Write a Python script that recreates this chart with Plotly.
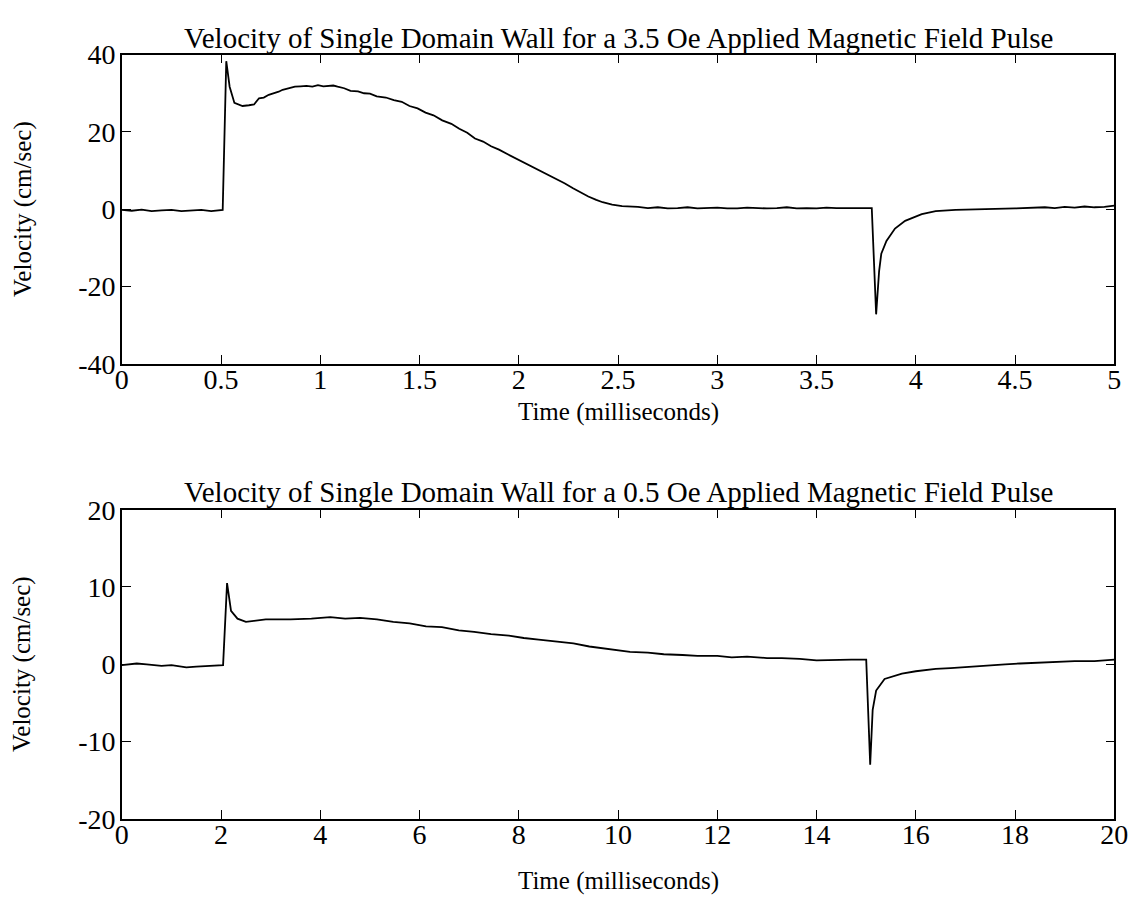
import plotly.graph_objects as go

# ---------------- data ----------------
# Top panel: 3.5 Oe pulse (time in ms, velocity in cm/sec)
t_top = [0, 0.05, 0.1, 0.15, 0.2, 0.25, 0.3, 0.35, 0.4, 0.45, 0.5, 0.508,
         0.526, 0.543, 0.567, 0.608, 0.64, 0.666, 0.691, 0.715, 0.74, 0.765,
         0.79, 0.81, 0.83, 0.85, 0.872, 0.90, 0.93, 0.96, 0.988, 1.015,
         1.04, 1.065, 1.087, 1.12, 1.152, 1.19, 1.22, 1.25, 1.284, 1.33,
         1.37, 1.41, 1.449, 1.49, 1.53, 1.57, 1.614, 1.66, 1.7, 1.74, 1.779,
         1.82, 1.86, 1.90, 1.944, 1.99, 2.03, 2.07, 2.108, 2.15, 2.19, 2.23,
         2.273, 2.31, 2.35, 2.39, 2.422, 2.47, 2.52, 2.6, 2.65, 2.7, 2.75,
         2.8, 2.85, 2.9, 2.95, 3.0, 3.05, 3.1, 3.15, 3.2, 3.25, 3.3, 3.35,
         3.4, 3.45, 3.5, 3.55, 3.6, 3.65, 3.7, 3.778, 3.80, 3.815, 3.826,
         3.852, 3.895, 3.946, 4.03, 4.10, 4.2, 4.3, 4.4, 4.5, 4.6, 4.65, 4.7,
         4.75, 4.8, 4.85, 4.9, 4.95, 5.0]
v_top = [-0.2, -0.4, -0.1, -0.5, -0.3, -0.2, -0.5, -0.3, -0.2, -0.5, -0.3, -0.2,
         38.3, 31.7, 27.5, 26.7, 26.9, 27.1, 28.7, 28.9, 29.6, 29.9,
         30.4, 30.9, 31.2, 31.3, 31.7, 31.8, 31.9, 31.7, 32.1, 31.8,
         31.9, 32.0, 31.7, 31.3, 30.6, 30.5, 30.0, 29.9, 29.2, 28.9,
         28.2, 27.8, 26.7, 26.1, 25.0, 24.3, 23.0, 22.1, 20.8, 19.8, 18.3,
         17.5, 16.3, 15.4, 14.2, 13.0, 12.0, 11.0, 10.0, 8.9, 7.7, 6.7,
         5.4, 4.3, 3.3, 2.4, 1.8, 1.2, 0.8, 0.6, 0.3, 0.5, 0.2,
         0.3, 0.5, 0.2, 0.3, 0.4, 0.2, 0.2, 0.4, 0.3, 0.2, 0.3, 0.5,
         0.2, 0.3, 0.2, 0.4, 0.3, 0.3, 0.3, 0.3, -27.2, -16.0, -11.5,
         -8.2, -5.0, -3.0, -1.3, -0.5, -0.2, 0.0, 0.1, 0.2, 0.3, 0.5, 0.3,
         0.6, 0.4, 0.7, 0.5, 0.6, 0.9]

# Bottom panel: 0.5 Oe pulse
t_bot = [0, 0.3, 0.5, 0.8, 1.0, 1.3, 1.5, 1.8, 2.0, 2.04, 2.12, 2.2, 2.33,
         2.5, 2.9, 3.4, 3.82, 4.2, 4.5, 4.8, 5.14, 5.47, 5.8, 6.13, 6.45,
         6.79, 7.1, 7.44, 7.8, 8.1, 8.4, 8.76, 9.1, 9.42, 9.95, 10.24,
         10.6, 10.92, 11.3, 11.6, 12.0, 12.29, 12.6, 13.0, 13.3, 13.66,
         14.0, 14.4, 14.7, 15.0, 15.08, 15.13, 15.2, 15.37, 15.72, 16.0,
         16.4, 16.7, 17.08, 17.4, 17.8, 18.1, 18.45, 18.8, 19.2, 19.6, 20.0]
v_bot = [-0.1, 0.1, 0.0, -0.2, -0.1, -0.4, -0.3, -0.2, -0.1, -0.1, 10.5, 6.9, 5.9,
         5.5, 5.8, 5.8, 5.9, 6.1, 5.9, 6.0, 5.8, 5.5, 5.3, 4.9, 4.8,
         4.4, 4.2, 3.9, 3.7, 3.4, 3.2, 2.9, 2.7, 2.3, 1.9, 1.6,
         1.5, 1.3, 1.2, 1.1, 1.1, 0.9, 1.0, 0.8, 0.8, 0.7,
         0.5, 0.6, 0.6, 0.6, -13.0, -5.9, -3.4, -1.9, -1.2, -0.9,
         -0.6, -0.5, -0.3, -0.2, 0.0, 0.1, 0.2, 0.3, 0.4, 0.4, 0.6]

xt_top = [0, 0.5, 1, 1.5, 2, 2.5, 3, 3.5, 4, 4.5, 5]
xt_top_lbl = ["0", "0.5", "1", "1.5", "2", "2.5", "3", "3.5", "4", "4.5", "5"]
yt_top = [-40, -20, 0, 20, 40]
yt_top_lbl = ["-40", "-20", "0", "20", "40"]
xt_bot = [0, 2, 4, 6, 8, 10, 12, 14, 16, 18, 20]
xt_bot_lbl = ["0", "2", "4", "6", "8", "10", "12", "14", "16", "18", "20"]
yt_bot = [-20, -10, 0, 10, 20]
yt_bot_lbl = ["-20", "-10", "0", "10", "20"]

title_top = "Velocity of Single Domain Wall for a 3.5 Oe Applied Magnetic Field Pulse"
title_bot = "Velocity of Single Domain Wall for a 0.5 Oe Applied Magnetic Field Pulse"
xlabel = "Time (milliseconds)"
ylabel = "Velocity (cm/sec)"

# ---------------- layout geometry ----------------
W, H = 1146, 917
FONT = "Liberation Serif, Times New Roman, serif"
x0, x1 = 117 / W, 1128 / W
top_dom = [1 - 361 / H, 1 - 41 / H]
bot_dom = [1 - 832 / H, 1 - 512 / H]

fig = go.Figure()
fig.add_trace(go.Scatter(x=t_top, y=v_top, mode="lines",
                         line=dict(color="black", width=1.8),
                         xaxis="x", yaxis="y", showlegend=False))
fig.add_trace(go.Scatter(x=t_bot, y=v_bot, mode="lines",
                         line=dict(color="black", width=1.8),
                         xaxis="x2", yaxis="y2", showlegend=False))

tick_font = dict(family=FONT, size=28, color="black")
axis_common = dict(showline=True, linecolor="black", linewidth=1.5,
                   mirror="ticks", ticks="inside", ticklen=9, tickwidth=1.3,
                   tickcolor="black", showgrid=False, zeroline=False,
                   tickfont=tick_font)

fig.update_layout(
    width=W, height=H,
    margin=dict(l=0, r=0, t=0, b=0),
    paper_bgcolor="white", plot_bgcolor="white",
    xaxis=dict(domain=[x0, x1], range=[0, 5], anchor="y",
               tickvals=xt_top, ticktext=xt_top_lbl, ticklabelstandoff=-10,
               **axis_common),
    yaxis=dict(domain=top_dom, range=[-40, 40], anchor="x",
               tickvals=yt_top, ticktext=yt_top_lbl, ticklabelstandoff=-1,
               **axis_common),
    xaxis2=dict(domain=[x0, x1], range=[0, 20], anchor="y2",
                tickvals=xt_bot, ticktext=xt_bot_lbl, ticklabelstandoff=-10,
                **axis_common),
    yaxis2=dict(domain=bot_dom, range=[-20, 20], anchor="x2",
                tickvals=yt_bot, ticktext=yt_bot_lbl, ticklabelstandoff=-1,
                **axis_common),
)

title_font = dict(family=FONT, size=29, color="black")
label_font = dict(family=FONT, size=25, color="black")
xc = (x0 + x1) / 2
fig.add_annotation(text=title_top, x=xc, y=1 - 24 / H, xref="paper", yref="paper",
                   showarrow=False, font=title_font, xanchor="center", yanchor="middle")
fig.add_annotation(text=title_bot, x=xc, y=1 - 494 / H, xref="paper", yref="paper",
                   showarrow=False, font=title_font, xanchor="center", yanchor="middle")
fig.add_annotation(text=xlabel, x=xc, y=1 - 411 / H, xref="paper", yref="paper",
                   showarrow=False, font=label_font, xanchor="center", yanchor="middle")
fig.add_annotation(text=xlabel, x=xc, y=1 - 896 / H, xref="paper", yref="paper",
                   showarrow=False, font=label_font, xanchor="center", yanchor="middle")
fig.add_annotation(text=ylabel, x=16 / W, y=sum(top_dom) / 2, xref="paper", yref="paper",
                   showarrow=False, font=label_font, textangle=-90,
                   xanchor="center", yanchor="middle")
fig.add_annotation(text=ylabel, x=16 / W, y=sum(bot_dom) / 2, xref="paper", yref="paper",
                   showarrow=False, font=label_font, textangle=-90,
                   xanchor="center", yanchor="middle")

fig.write_html("out.html")
